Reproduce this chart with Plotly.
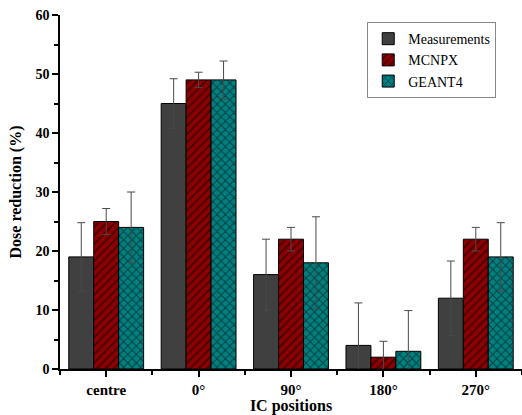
import plotly.graph_objects as go

categories = ["centre", "0°", "90°", "180°", "270°"]
measurements = [19, 45, 16, 4, 12]
measurements_err = [5.8, 4.2, 6.0, 7.2, 6.3]
mcnpx = [25, 49, 22, 2, 22]
mcnpx_err = [2.2, 1.3, 2.0, 2.7, 2.0]
geant4 = [24, 49, 18, 3, 19]
geant4_err = [6.0, 3.2, 7.8, 6.9, 5.8]
y_ticks = [0, 10, 20, 30, 40, 50, 60]

xpos = list(range(len(categories)))
font_family = "Liberation Serif, Times New Roman, serif"
err_color = "#4a4a4a"

fig = go.Figure()
series = [
    ("Measurements", measurements, measurements_err, "#404040", ""),
    ("MCNPX", mcnpx, mcnpx_err, "#8B0000", "/"),
    ("GEANT4", geant4, geant4_err, "#008080", "x"),
]
for name, vals, errs, color, shape in series:
    marker = dict(color=color, line=dict(color="black", width=1))
    if shape:
        marker["pattern"] = dict(shape=shape, fgcolor="black", bgcolor=color,
                                 size=6, solidity=0.3, fillmode="overlay")
    fig.add_trace(go.Bar(
        name=name, x=xpos, y=vals, marker=marker,
        error_y=dict(type="data", array=errs, visible=True,
                     color=err_color, thickness=1, width=4),
    ))

fig.update_layout(
    width=522, height=415,
    margin=dict(l=60, r=0, t=15, b=46, autoexpand=False),
    barmode="group", bargap=0.19, bargroupgap=0,
    plot_bgcolor="white", paper_bgcolor="white",
    font=dict(family=font_family, color="black", size=13),
    legend=dict(x=0.665, y=0.98, xanchor="left", yanchor="top",
                bordercolor="#888888", borderwidth=1, bgcolor="white",
                font=dict(family=font_family, size=14),
                tracegroupgap=0, itemwidth=30),
    showlegend=True,
)
fig.update_xaxes(
    range=[-0.5, 4.5], tickmode="array", tickvals=xpos, ticktext=categories,
    showline=True, linecolor="black", linewidth=1.5, showgrid=False, zeroline=False,
    ticks="outside", ticklen=6, tickwidth=1.5, tickcolor="black",
    tickfont=dict(family=font_family, size=15, color="black", weight="bold"),
    minor=dict(ticks="outside", dtick=0.5, tick0=0.5, ticklen=4, tickwidth=1.5, tickcolor="black"),
    title=dict(text="<b>IC positions</b>", font=dict(family=font_family, size=16), standoff=4),
)
fig.update_yaxes(
    range=[0, 60], tickmode="array", tickvals=y_ticks,
    showline=True, linecolor="black", linewidth=1.5, showgrid=False, zeroline=False,
    ticks="outside", ticklen=6, tickwidth=1.5, tickcolor="black",
    tickfont=dict(family=font_family, size=14, color="black", weight="bold"),
    minor=dict(ticks="outside", dtick=5, tick0=0, ticklen=4, tickwidth=1.5, tickcolor="black"),
    title=dict(text="<b>Dose reduction (%)</b>", font=dict(family=font_family, size=16), standoff=10),
)

fig.write_html("out.html", config={"displayModeBar": False},
               post_script="document.body.style.margin='0';document.body.style.overflow='hidden';")
